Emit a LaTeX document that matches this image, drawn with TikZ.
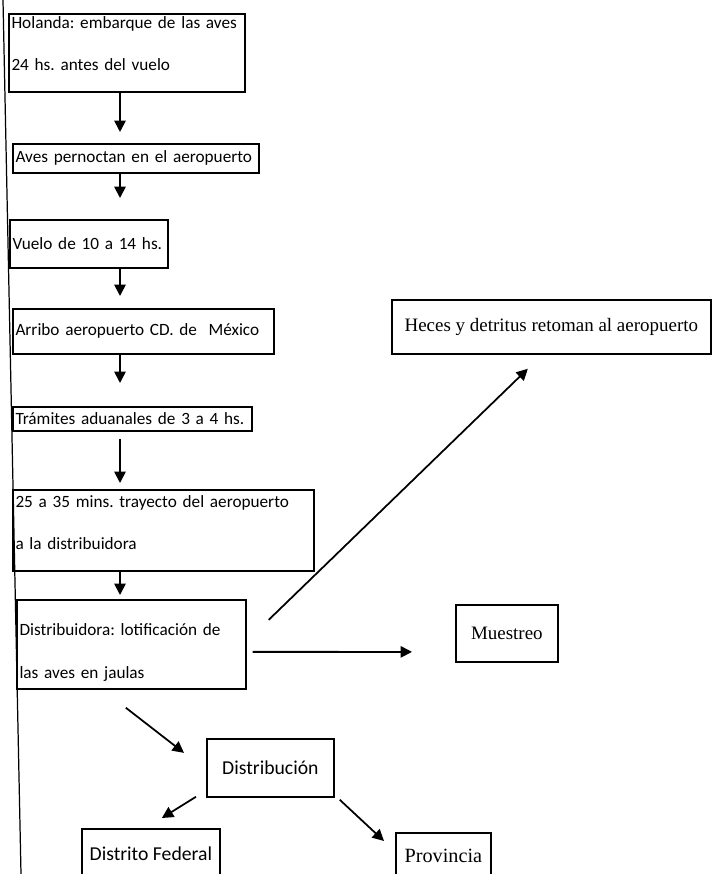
\documentclass[tikz,border=0pt]{standalone}
\usepackage{fontspec}
\setmainfont{Liberation Serif}
\newfontfamily\flowsans{Carlito}
\usetikzlibrary{arrows.meta}
\frenchspacing

\begin{document}
\begin{tikzpicture}[
        x=0.02cm, y=-0.02cm,
        >={Triangle[width=6.5pt,length=6.5pt]},
        every node/.style={font=\flowsans\fontsize{9.8}{12}\selectfont},
        stepbox/.style={rectangle, draw, line width=1pt, anchor=north west, align=left,
            inner xsep=1.5pt, inner ysep=0.5pt, execute at begin node={\hyphenpenalty=10000}},
        sidebox/.style={rectangle, draw, line width=1pt, anchor=north west, align=center, inner sep=2pt,
            font=\flowsans\fontsize{11.2}{13}\selectfont},
        serifbox/.style={sidebox, font=\rmfamily\fontsize{10.8}{13}\selectfont},
        arrow/.style={->, line width=1pt}
    ]
        \useasboundingbox (0,0) rectangle (714,874);
        \clip (0,0) rectangle (714,874);

        % edge of the scanned page
        \draw[line width=0.7pt] (3,0) -- (21,874);

        \coordinate (spine) at (120,0);

        \node[stepbox, text width=4.614cm, minimum height=1.56cm] (hol) at (8,13) {Holanda: embarque de las aves\\[12pt]24 hs. antes del vuelo\rule[-11pt]{0pt}{11pt}};
        \node[stepbox, text width=4.814cm, minimum height=0.58cm] (pern) at (12,143) {Aves pernoctan en el aeropuerto};
        \node[stepbox, text width=3.054cm, minimum height=0.96cm] (vuelo) at (9,219) {Vuelo de 10 a 14 hs.};
        \node[stepbox, text width=5.114cm, minimum height=0.90cm] (arribo) at (12,308) {Arribo aeropuerto CD. de \ México};
        \node[stepbox, text width=4.674cm, minimum height=0.48cm] (tram) at (12,406) {Trámites aduanales de 3 a 4 hs.};
        \node[stepbox, text width=5.914cm, minimum height=1.62cm] (tray) at (12,489) {25 a 35 mins. trayecto del aeropuerto\\[12pt]a la distribuidora\rule[-9pt]{0pt}{9pt}};
        \node[stepbox, text width=4.474cm, minimum height=1.78cm] (distr) at (16,599) {\rule{0pt}{16pt}Distribuidora: lotificación de\\[12pt]las aves en jaulas};

        \node[serifbox, minimum width=6.38cm, minimum height=1.08cm] (heces) at (391,299) {Heces y detritus retoman al aeropuerto};
        \node[serifbox, minimum width=2.04cm, minimum height=1.14cm] (muest) at (455,604) {Muestreo};
        \node[sidebox, minimum width=2.54cm, minimum height=1.16cm] (distrib) at (206,738) {Distribución};
        \node[sidebox, minimum width=2.76cm, minimum height=1.00cm] (df) at (81,828) {Distrito Federal};
        \node[serifbox, minimum width=1.90cm, minimum height=0.92cm, font=\rmfamily\fontsize{11.5}{13}\selectfont] (prov) at (395,832) {Provincia};

        \draw[arrow, shorten >=0.22cm] (hol.south -| spine) -- (pern.north -| spine);
        \draw[arrow, shorten >=0.42cm] (pern.south -| spine) -- (vuelo.north -| spine);
        \draw[arrow, shorten >=0.24cm] (vuelo.south -| spine) -- (arribo.north -| spine);
        \draw[arrow, shorten >=0.46cm] (arribo.south -| spine) -- (tram.north -| spine);
        \draw[arrow, shorten <=0.14cm, shorten >=0.12cm] (tram.south -| spine) -- (tray.north -| spine);
        \draw[arrow, shorten >=0.08cm] (tray.south -| spine) -- (distr.north -| spine);

        \draw[arrow] ([shift={(22,-24.5)}]distr.east) -- ([shift={(-23.5,14)}]heces.south);
        \draw[arrow] ([shift={(6,7.5)}]distr.east) -- ([shift={(-43,18.5)}]muest.west);
        \draw[arrow] ([shift={(-5.5,18)}]distr.south) -- ([shift={(-22,-15)}]distrib.west);
        \draw[arrow] ([shift={(-10,-1)}]distrib.south west) -- ([shift={(11,-10)}]df.north);
        \draw[arrow] ([shift={(5,2)}]distrib.south east) -- ([shift={(-11,9)}]prov.north west);
    \end{tikzpicture}
\end{document}
